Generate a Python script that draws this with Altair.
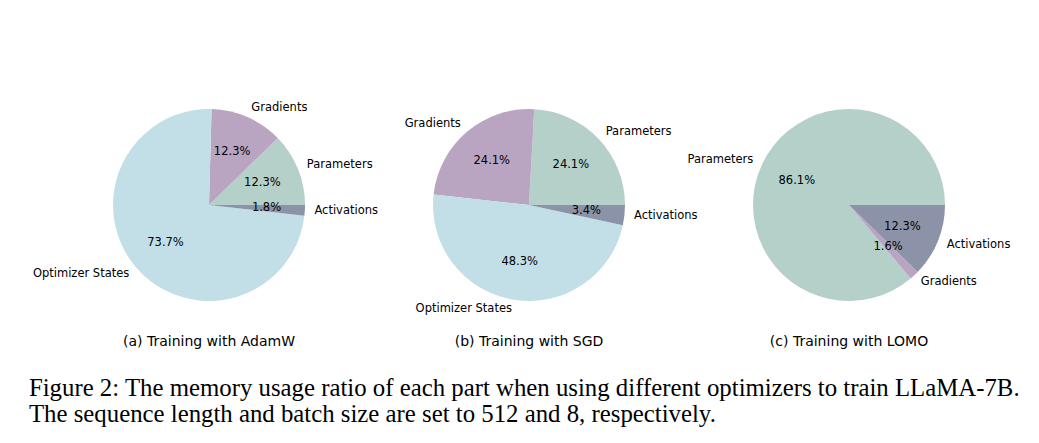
import math
import altair as alt
import pandas as pd

# ---- data ----
all_parts = ["Parameters", "Gradients", "Optimizer States", "Activations"]
part_colors = ["#b5cfc9", "#b9a5c2", "#c2dfe8", "#8c93a9"]

adamw_parts = ["Parameters", "Gradients", "Optimizer States", "Activations"]
adamw_vals = [12.3, 12.3, 73.7, 1.8]

sgd_parts = ["Parameters", "Gradients", "Optimizer States", "Activations"]
sgd_vals = [24.1, 24.1, 48.3, 3.4]

lomo_parts = ["Parameters", "Gradients", "Activations"]
lomo_vals = [86.1, 1.6, 12.3]

panel_titles = ["(a) Training with AdamW", "(b) Training with SGD", "(c) Training with LOMO"]
caption = [
    "Figure 2: The memory usage ratio of each part when using different optimizers to train LLaMA-7B.",
    "The sequence length and batch size are set to 512 and 8, respectively.",
]

R = 96
FONT = "DejaVu Sans"


def pie(parts, vals, title):
    df = pd.DataFrame({"part": parts, "value": vals, "idx": list(range(len(parts)))})
    base = (
        alt.Chart(df)
        .transform_joinaggregate(total="sum(value)")
        .transform_window(
            cum="sum(value)",
            sort=[alt.SortField("idx", order="descending")],
            frame=[None, 0],
        )
        .transform_calculate(
            mid="(datum.cum - datum.value / 2) / datum.total",
            pct="format(datum.value, '.1f') + '%'",
        )
        .encode(
            theta=alt.Theta(
                "value:Q",
                stack=True,
                scale=alt.Scale(range=[math.pi / 2, 5 * math.pi / 2]),
            ),
            order=alt.Order("idx:Q", sort="descending"),
        )
    )
    arc = base.mark_arc(outerRadius=R).encode(
        color=alt.Color(
            "part:N",
            scale=alt.Scale(domain=all_parts, range=part_colors),
            legend=None,
        )
    )
    pct = base.mark_text(
        radius=0.6 * R, font=FONT, fontSize=11.5, color="black"
    ).encode(text="pct:N")
    lab = base.mark_text(
        radius=1.1 * R,
        font=FONT,
        fontSize=11.5,
        color="black",
        align=alt.expr("sin(PI / 2 + 2 * PI * datum.mid) >= 0 ? 'left' : 'right'"),
        baseline="middle",
    ).encode(text="part:N")
    return alt.layer(arc, pct, lab).properties(
        width=320,
        height=220,
        title=alt.TitleParams(
            title,
            orient="bottom",
            font=FONT,
            fontSize=14,
            fontWeight="normal",
            color="black",
            offset=20,
        ),
    )


chart = (
    alt.hconcat(
        pie(adamw_parts, adamw_vals, panel_titles[0]),
        pie(sgd_parts, sgd_vals, panel_titles[1]),
        pie(lomo_parts, lomo_vals, panel_titles[2]),
        spacing=0,
        bounds="flush",
    )
    .properties(
        padding={"left": 20, "top": 87, "right": 5, "bottom": 5},
        title=alt.TitleParams(
            caption,
            orient="bottom",
            anchor="start",
            font="Liberation Serif",
            fontSize=24.8,
            fontWeight="normal",
            lineHeight=26,
            color="black",
            offset=27,
            dx=-4,
        ),
    )
    .configure_view(stroke=None)
    .configure(background="white")
)

chart.save("out.html", embed_options={"renderer": "svg", "actions": False})
